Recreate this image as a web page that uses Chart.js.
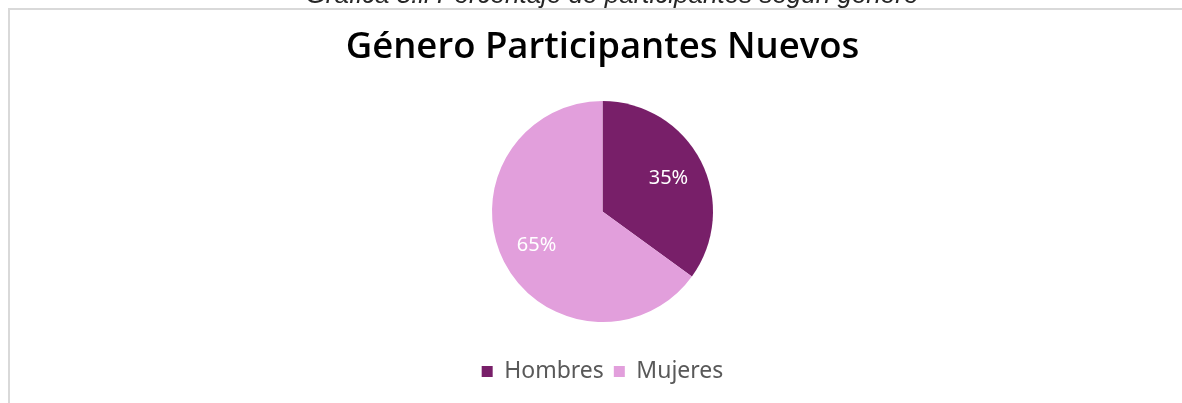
<!DOCTYPE html>
<html>
<head>
<meta charset="utf-8">
<script src="https://cdn.jsdelivr.net/npm/chart.js@4/dist/chart.umd.min.js"></script>
<style>
	html, body { margin: 0; padding: 0; background: #fff; }
	#wrap { position: relative; width: 1182px; height: 403px; overflow: hidden; }
</style>
</head>
<body>
<div id="wrap"><canvas id="chart" width="1182" height="403"></canvas></div>
<script>
const categories = ['Hombres', 'Mujeres'];
const percentages = [35, 65];
const colors = ['#781f69', '#e29fdc'];
const chartTitle = 'Género Participantes Nuevos';
const captionText = 'Gráfica 3.ii Porcentaje de participantes según género';

// frame lines + cut-off caption above the chart box
const framePlugin = {
	id: 'frame',
	beforeDraw(chart) {
		const ctx = chart.ctx;
		ctx.save();
		ctx.fillStyle = '#d9d9d9';
		ctx.fillRect(8, 8, chart.width - 8, 2);
		ctx.fillRect(8, 8, 2, chart.height - 8);
		ctx.font = 'italic 26px "Liberation Sans", Arial, sans-serif';
		ctx.fillStyle = '#262626';
		ctx.textAlign = 'center';
		ctx.textBaseline = 'alphabetic';
		ctx.fillText(captionText, 612, 3);
		ctx.restore();
	},
};

// percentage labels inside slices
const sliceLabels = {
	id: 'sliceLabels',
	afterDatasetsDraw(chart) {
		const ctx = chart.ctx;
		const meta = chart.getDatasetMeta(0);
		ctx.save();
		ctx.font = '20px "Noto Sans", sans-serif';
		ctx.fillStyle = '#ffffff';
		ctx.textAlign = 'center';
		ctx.textBaseline = 'middle';
		meta.data.forEach((arc, i) => {
			const p = arc.getProps(['x', 'y', 'startAngle', 'endAngle', 'outerRadius'], true);
			const mid = (p.startAngle + p.endAngle) / 2;
			const r = p.outerRadius * 0.67;
			ctx.fillText(percentages[i] + '%', p.x + Math.cos(mid) * r, p.y + Math.sin(mid) * r);
		});
		ctx.restore();
	},
};

new Chart(document.getElementById('chart'), {
	type: 'pie',
	data: {
		labels: categories,
		datasets: [
			{
				data: percentages,
				backgroundColor: colors,
				borderWidth: 0,
				radius: 110.5,
			},
		],
	},
	options: {
		responsive: false,
		animation: false,
		layout: {
			padding: { top: 8, bottom: 10, left: 23, right: 0 },
		},
		plugins: {
			title: {
				display: true,
				text: chartTitle,
				color: '#000000',
				font: { size: 36.5, family: '"Open Sans", "Noto Sans", sans-serif', weight: '600', lineHeight: 1.2 },
				padding: { top: 18, bottom: 3.2 },
			},
			legend: {
				position: 'bottom',
				labels: {
					color: '#595959',
					boxWidth: 11,
					boxHeight: 11,
					padding: 10,
					font: { size: 23, family: '"Noto Sans", sans-serif' },
				},
			},
			tooltip: { enabled: false },
		},
	},
	plugins: [framePlugin, sliceLabels],
});
</script>
</body>
</html>
